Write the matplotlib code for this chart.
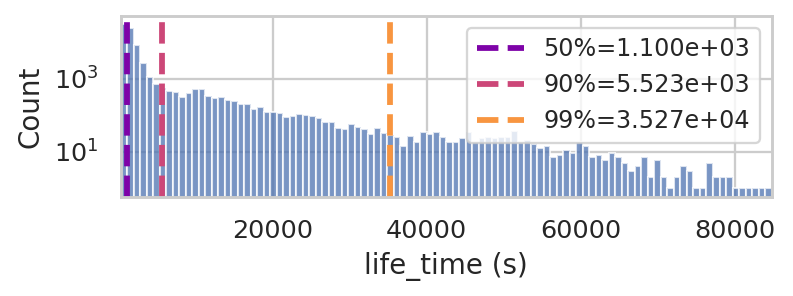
import numpy as np
import matplotlib
matplotlib.use("Agg")
import matplotlib.pyplot as plt
import seaborn as sns

# histogram of life_time, 100 equal bins between the min and max value
bin_start = 200
bin_stop = 84800
n_bins = 100
counts = [
    31500, 25500, 8480, 2710, 1117, 735, 560, 481, 443, 329,
    424, 522, 546, 344, 303, 315, 267, 255, 207, 207,
    154, 175, 125, 125, 114, 93, 97, 110, 105, 97,
    82, 66, 66, 45, 41, 58, 49, 43, 31, 45,
    32, 28, 25, 14, 27, 18, 34, 30, 35, 25,
    19, 18, 24, 35, 18, 24, 25, 24, 25, 25,
    37, 18, 21, 16, 13, 14, 7, 8, 11, 9,
    18, 14, 7, 8, 6, 9, 7, 5, 3, 4,
    7, 2, 6, 2, 1, 2, 4, 3, 1, 1,
    5, 2, 2, 2, 1, 1, 1, 1, 1, 1,
]

# percentile markers
pct_names = ["50%", "90%", "99%"]
pct_values = [1.100e03, 5.523e03, 3.527e04]
pct_colors = ["#7e03a8", "#cc4778", "#f89540"]

sns.set_theme(style="whitegrid")
plt.rcParams["font.family"] = ["DejaVu Sans"]

dpi = 166.7
fig = plt.figure(figsize=(793 / dpi, 296 / dpi), dpi=dpi)
ax = fig.add_axes([0.152, 0.335, 0.821, 0.611])

edges = np.linspace(bin_start, bin_stop, n_bins + 1)
ax.bar(edges[:-1], counts, width=np.diff(edges), align="edge",
       color="#4c72b0", alpha=0.75, edgecolor="white", linewidth=0.9)

for name, value, color in zip(pct_names, pct_values, pct_colors):
    ax.axvline(value, color=color, linestyle="--", linewidth=2.5,
               label="{}={:.3e}".format(name, value))

ax.set_yscale("log")
ax.set_ylim(0.576, 53900)
ax.set_yticks([1e1, 1e3])
ax.yaxis.set_minor_locator(matplotlib.ticker.NullLocator())
ax.set_xlim(bin_start, bin_stop)
ax.set_xticks([20000, 40000, 60000, 80000])

ax.set_xlabel("life_time (s)")
ax.set_ylabel("Count")
ax.legend(loc="upper right", fontsize=10.3)

fig.savefig("out.png", dpi=dpi)
